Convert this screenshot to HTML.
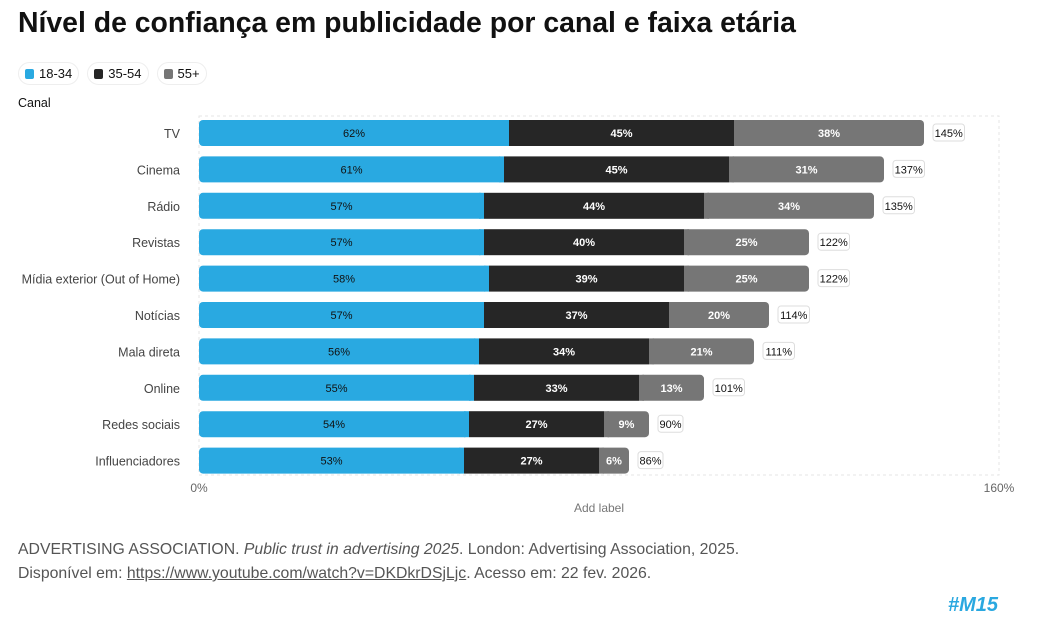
<!DOCTYPE html>
<html><head><meta charset="utf-8"><style>
body{margin:0;width:1061px;height:635px;background:#fff;font-family:"Liberation Sans",sans-serif;overflow:hidden;position:relative}
.title{position:absolute;left:18px;top:7px;font-size:28.4px;font-weight:bold;color:#111}
.legend{position:absolute;top:62px;left:18px;display:flex;gap:8px}
.lg{border:1px solid #eee;border-radius:12px;padding:3px 6px;font-size:13px;color:#111;display:flex;align-items:center;gap:5px}
.sw{width:9px;height:10px;border-radius:2px}
.foot{position:absolute;left:18px;top:538px;font-size:15.8px;color:#555;line-height:24px}
.logo{position:absolute;left:948px;top:594px;font-size:20px;font-weight:900;color:#2aa8e0;font-style:italic}
</style></head><body>
<div class="title">Nível de confiança em publicidade por canal e faixa etária</div>
<div class="legend">
<div class="lg"><span class="sw" style="background:#29a9e1"></span>18-34</div>
<div class="lg"><span class="sw" style="background:#262626"></span>35-54</div>
<div class="lg"><span class="sw" style="background:#767676"></span>55+</div>
</div>
<svg id="chart" width="1061" height="635" style="position:absolute;left:0;top:0"></svg>
<div class="foot">ADVERTISING ASSOCIATION. <i>Public trust in advertising 2025</i>. London: Advertising Association, 2025.<br>Disponível em: <u>https://www.youtube.com/watch?v=DKDkrDSjLjc</u>. Acesso em: 22 fev. 2026.</div>
<div class="logo">#M15</div>
<script>
const categories=["TV","Cinema","Rádio","Revistas","Mídia exterior (Out of Home)","Notícias","Mala direta","Online","Redes sociais","Influenciadores"];
const s1834=[62,61,57,57,58,57,56,55,54,53];
const s3554=[45,45,44,40,39,37,34,33,27,27];
const s55=[38,31,34,25,25,20,21,13,9,6];
const xTicks=[0,160];
const colors=["#29a9e1","#262626","#767676"];
const svg=document.getElementById('chart');const NS="http://www.w3.org/2000/svg";
const x=v=>199+v*5;const y=i=>133+i*36.4;
function el(t,a,txt){const e=document.createElementNS(NS,t);for(const k in a)e.setAttribute(k,a[k]);if(txt!==undefined)e.textContent=txt;svg.appendChild(e);return e;}
const frame=el('rect',{x:199,y:116,width:800,height:359,fill:'none',stroke:'#e6e6e6','stroke-dasharray':'3,3'});


const c=el('text',{x:18,y:107,'font-size':12.5,fill:'#111'},'Canal');


xTicks.forEach(t=>{const e=el('text',{x:x(t),y:492,'font-size':12,fill:'#666','text-anchor':'middle'},t+'%');

});
const xl=el('text',{x:599,y:512,'font-size':12,fill:'#777','text-anchor':'middle'},'Add label');


categories.forEach((cat,i)=>{
 const cy=y(i);
 const lab=el('text',{x:180,y:cy+5,'font-size':12.5,fill:'#444','text-anchor':'end'},cat);
 
 
 const vals=[s1834[i],s3554[i],s55[i]];let acc=0;const tot=vals[0]+vals[1]+vals[2];
 vals.forEach((v,j)=>{
  const x0=x(acc),w=v*5;
  let r;
  if(j==0||j==2){const p=el('rect',{x:x0,y:cy-13,width:w,height:26,rx:4,fill:colors[j]});r=p;
   const sq=el('rect',{x:j==0?x0+w-5:x0,y:cy-13,width:5,height:26,fill:colors[j]});}
  else r=el('rect',{x:x0,y:cy-13,width:w,height:26,fill:colors[j]});
  
  
  const t=el('text',{x:x0+w/2,y:cy+4,'font-size':11,'font-weight':j?'bold':'normal',fill:j?'#fff':'#111','text-anchor':'middle'},v+'%');
  
  
  acc+=v;
 });
 const tx=x(tot)+9,tw=String(tot).length*6.5+12;
 const b=el('rect',{x:tx,y:cy-9,width:tw,height:17,rx:3,fill:'#fff',stroke:'#ddd'});
 
 
 const tt=el('text',{x:tx+tw/2,y:cy+4,'font-size':11,fill:'#111','text-anchor':'middle'},tot+'%');
 
 
});
</script>
</body></html>
